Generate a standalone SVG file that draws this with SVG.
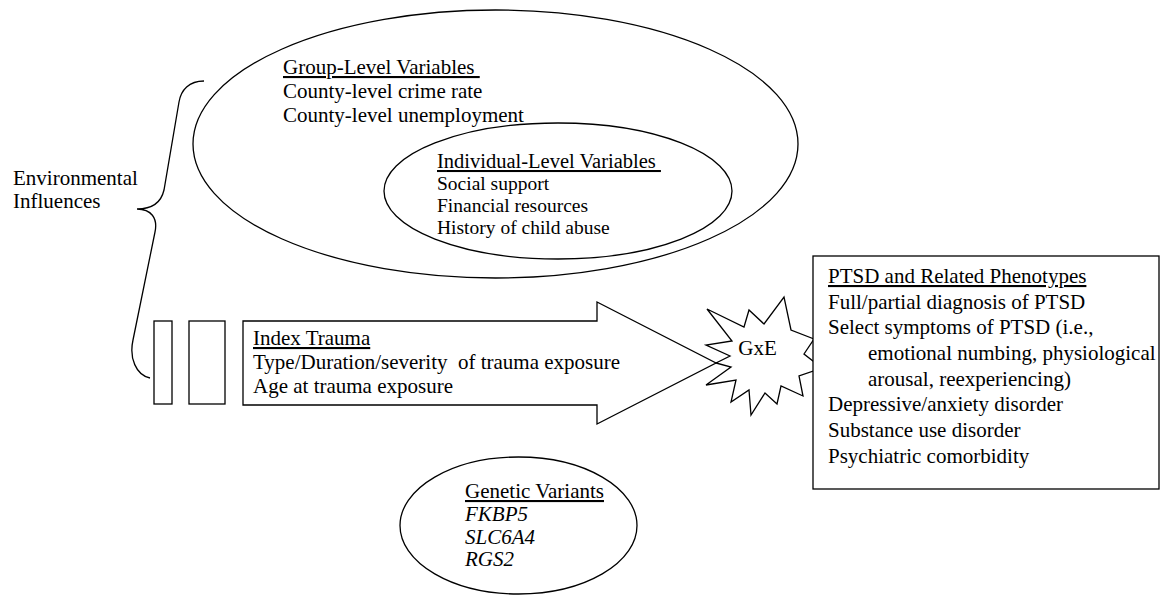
<svg xmlns="http://www.w3.org/2000/svg" width="1168" height="597" viewBox="0 0 1168 597">
<style>
text{font-family:"Liberation Serif","Times New Roman",serif;font-size:21px;fill:#000;white-space:pre}
.sm{font-size:19.5px}
.u{text-decoration:underline}
.i{font-style:italic}
.s{fill:#fff;stroke:#000;stroke-width:1.3}
.n{fill:none;stroke:#000;stroke-width:1.3}
</style>
<rect width="1168" height="597" fill="#fff"/>
<g id="group-level">
<ellipse class="s" cx="495.5" cy="144" rx="302.5" ry="134"/>
<text x="283" y="74" class="u">Group-Level Variables </text>
<text x="283" y="98">County-level crime rate</text>
<text x="283" y="122">County-level unemployment</text>
</g>
<g id="individual-level">
<ellipse class="s" cx="558" cy="191" rx="174" ry="68"/>
<text x="437" y="168" class="sm u" style="font-size:20.5px">Individual-Level Variables </text>
<text x="437" y="190" class="sm">Social support</text>
<text x="437" y="212" class="sm">Financial resources</text>
<text x="437" y="234" class="sm">History of child abuse</text>
</g>
<g id="environmental">
<path class="n" d="M204,81 C189,81 181,90 179,102 L164,190 C161,203 151,209 137,209 C151,209 158,218 155,232 L133,340 C129,358 136,375 150,378"/>
<text x="13" y="185">Environmental</text>
<text x="13" y="208">Influences</text>
</g>
<g id="bars">
<rect class="s" x="154" y="321" width="18" height="83"/>
<rect class="s" x="189" y="321" width="36" height="83"/>
</g>
<g id="index-trauma">
<polygon class="s" points="243,321 597,321 597,302 716,363 597,424 597,405 243,405"/>
<text x="253" y="345" class="u">Index Trauma</text>
<text x="253" y="369">Type/Duration/severity  of trauma exposure</text>
<text x="253" y="393">Age at trauma exposure</text>
</g>
<g id="gxe">
<polygon class="s" points="707,309 744,327 749,310 764,324 784,297 791,330 814,339 804,354 822,368 799,376 803,396 781,386 777,404 765,393 751,415 749,390 731,402 736,380 706,385 731,367 716,363 730,356 706,345 732,341"/>
<text x="757.5" y="355" text-anchor="middle">GxE</text>
</g>
<g id="ptsd">
<rect class="s" x="813" y="256" width="346" height="233"/>
<text x="828" y="283" class="u">PTSD and Related Phenotypes</text>
<text x="828" y="309">Full/partial diagnosis of PTSD</text>
<text x="828" y="334">Select symptoms of PTSD (i.e.,</text>
<text x="868" y="360">emotional numbing, physiological</text>
<text x="868" y="386">arousal, reexperiencing)</text>
<text x="828" y="411">Depressive/anxiety disorder</text>
<text x="828" y="437">Substance use disorder</text>
<text x="828" y="463">Psychiatric comorbidity</text>
</g>
<g id="genetic">
<ellipse class="s" cx="518.5" cy="525.5" rx="118.5" ry="68.5"/>
<text x="465" y="498" class="u">Genetic Variants</text>
<text x="465" y="521" class="i">FKBP5</text>
<text x="465" y="544" class="i">SLC6A4</text>
<text x="465" y="566" class="i">RGS2</text>
</g>
<g id="connectors"></g>
</svg>
